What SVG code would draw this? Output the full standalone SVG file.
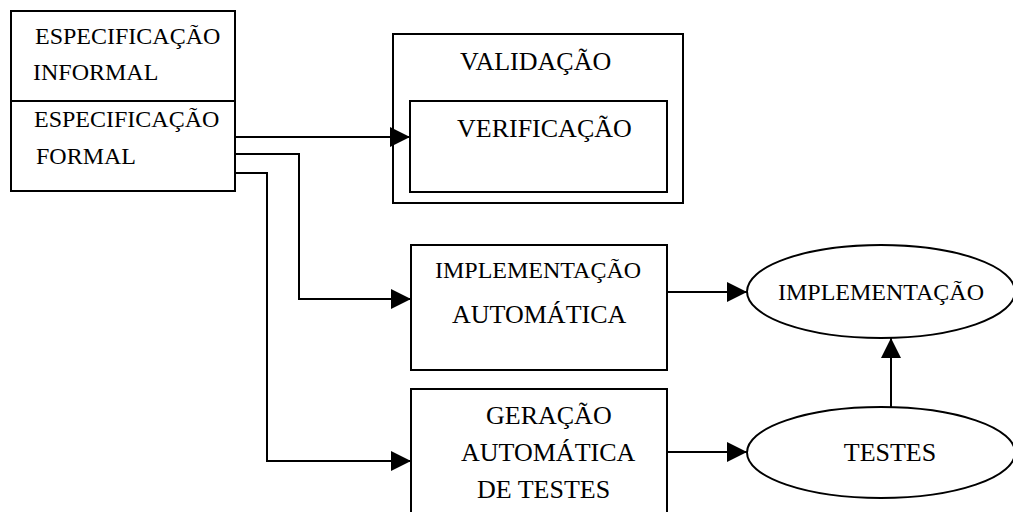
<svg xmlns="http://www.w3.org/2000/svg" width="1013" height="512" viewBox="0 0 1013 512">
<style>
.box{fill:#fff;stroke:#000;stroke-width:2}
.ln{fill:none;stroke:#000;stroke-width:2}
.t{font-family:"Liberation Serif","Times New Roman",serif;fill:#000;font-size:26px}
.s{font-size:24px}
</style>
<defs>
<marker id="ah" markerUnits="userSpaceOnUse" markerWidth="20" markerHeight="20" refX="20" refY="10" orient="auto">
<path d="M0,0 L20,10 L0,20 z" fill="#000"/>
</marker>
</defs>
<rect width="1013" height="512" fill="#fff"/>
<g id="espec">
<rect class="box" x="11" y="11" width="224" height="180"/>
<line class="ln" x1="11" y1="101" x2="235" y2="101"/>
<text class="t s" x="35" y="44">ESPECIFICAÇÃO</text>
<text class="t s" x="33" y="80">INFORMAL</text>
<text class="t s" x="34" y="127">ESPECIFICAÇÃO</text>
<text class="t s" x="36" y="164">FORMAL</text>
</g>
<g id="validacao">
<rect class="box" x="393" y="34" width="290" height="169"/>
<text class="t" x="460" y="70">VALIDAÇÃO</text>
</g>
<g id="verificacao">
<rect class="box" x="410" y="101" width="257" height="91"/>
<text class="t" x="457" y="137">VERIFICAÇÃO</text>
</g>
<g id="impl-auto">
<rect class="box" x="411" y="245" width="256" height="125"/>
<text class="t s" x="435" y="278">IMPLEMENTAÇÃO</text>
<text class="t" x="452" y="323">AUTOMÁTICA</text>
</g>
<g id="geracao">
<rect class="box" x="411" y="389" width="256" height="130"/>
<text class="t" x="486" y="424">GERAÇÃO</text>
<text class="t" x="461" y="461">AUTOMÁTICA</text>
<text class="t" x="477" y="498">DE TESTES</text>
</g>
<g id="implementacao">
<ellipse class="box" cx="881" cy="291.5" rx="134" ry="46.5"/>
<text class="t s" x="881" y="300" text-anchor="middle">IMPLEMENTAÇÃO</text>
</g>
<g id="testes">
<ellipse class="box" cx="881" cy="452.5" rx="134" ry="45.5"/>
<text class="t" x="890" y="461" text-anchor="middle">TESTES</text>
</g>
<g id="connectors">
<polyline class="ln" points="235,137 410,137" marker-end="url(#ah)"/>
<polyline class="ln" points="235,154 299,154 299,299 411,299" marker-end="url(#ah)"/>
<polyline class="ln" points="235,173 267,173 267,461 411,461" marker-end="url(#ah)"/>
<polyline class="ln" points="667,292 747,292" marker-end="url(#ah)"/>
<polyline class="ln" points="667,452 747,452" marker-end="url(#ah)"/>
<polyline class="ln" points="891,407 891,338" marker-end="url(#ah)"/>
</g>
</svg>
